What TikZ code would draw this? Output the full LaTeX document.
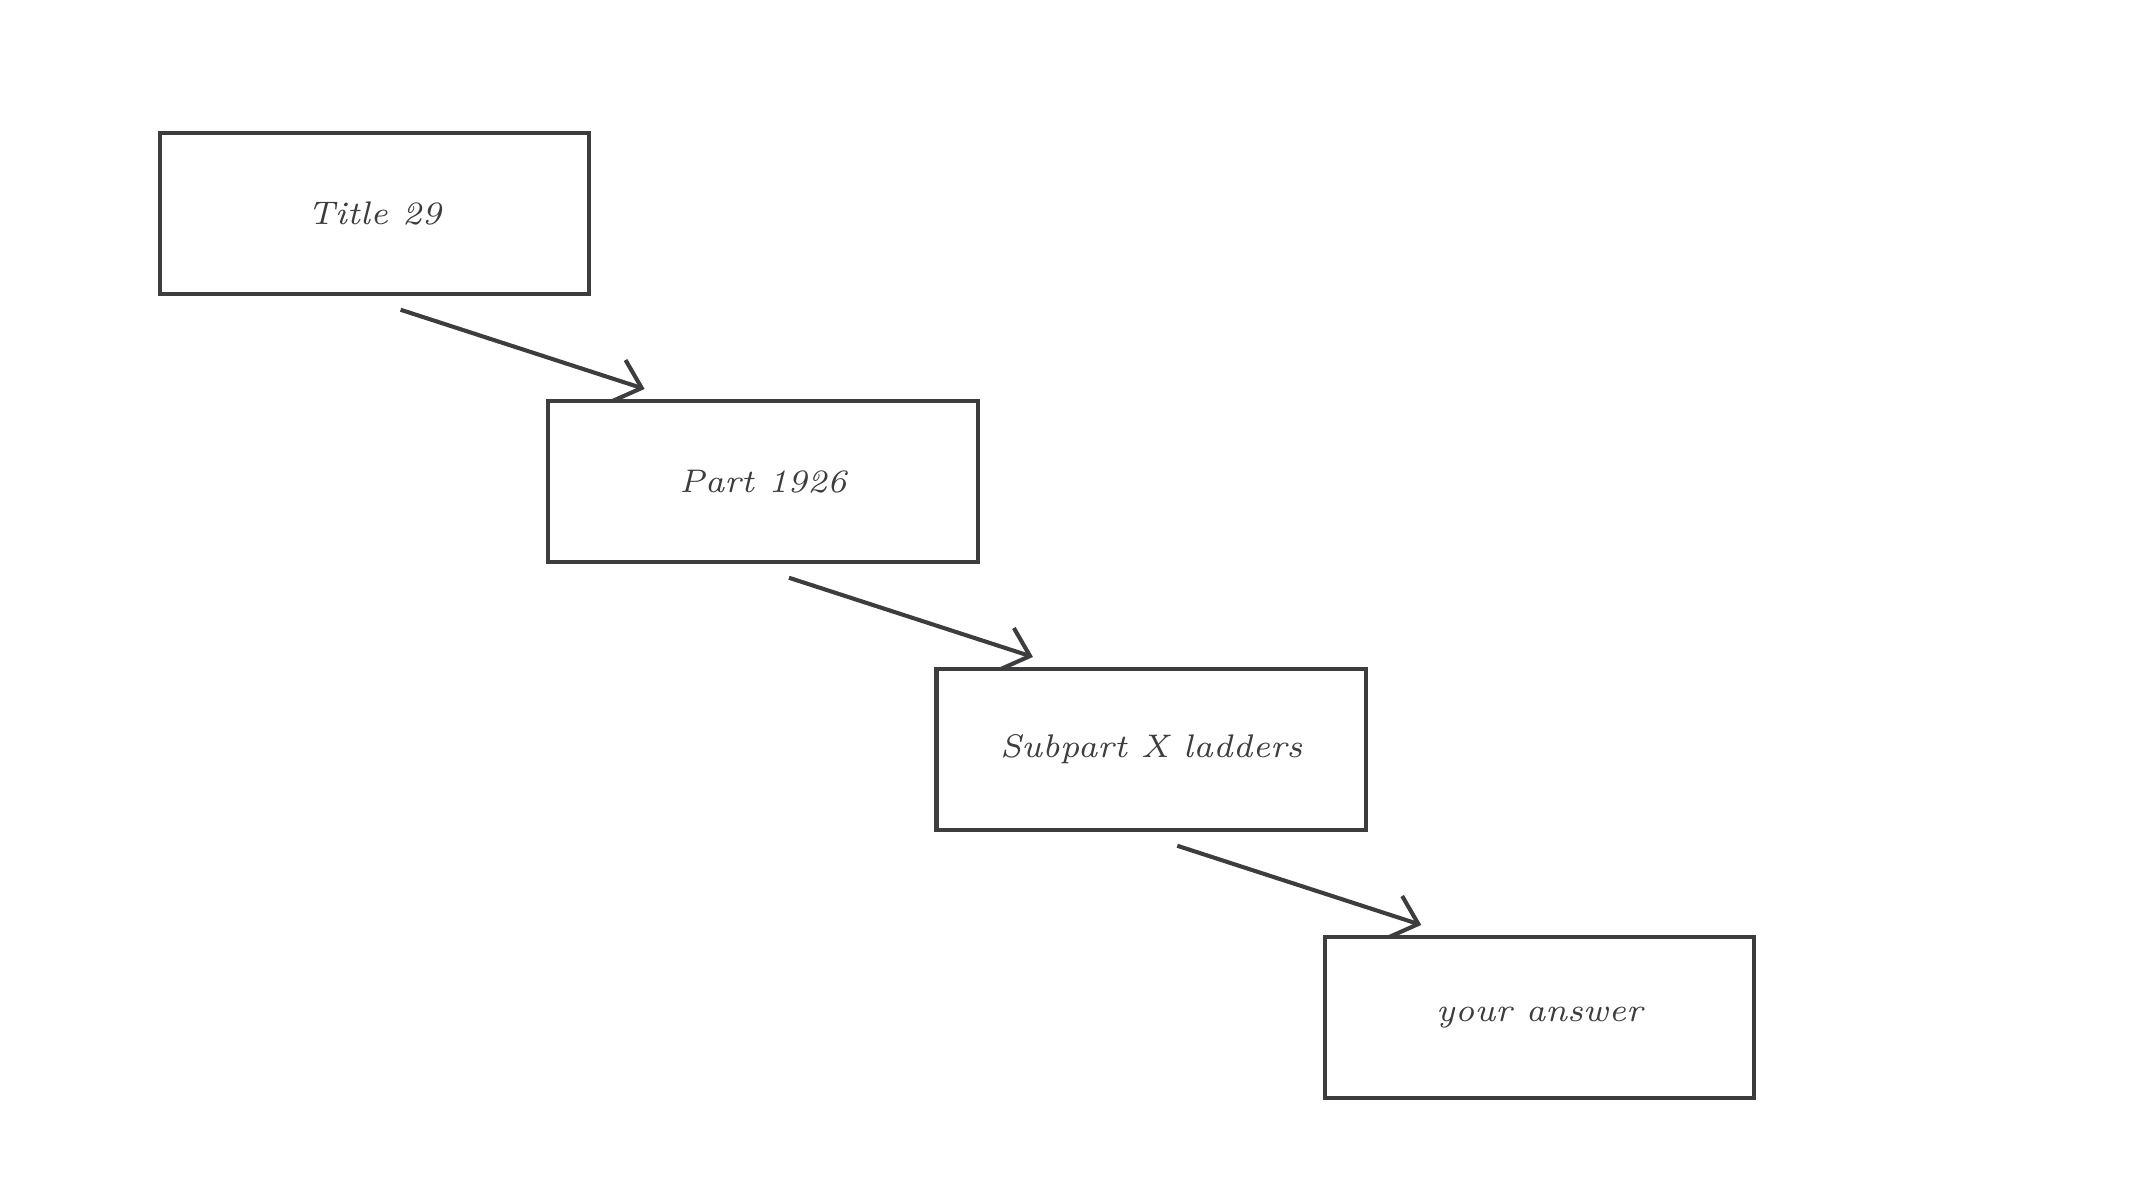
\documentclass[tikz,border=0pt]{standalone}
\usepackage{tikz}
\usetikzlibrary{arrows.meta}
\definecolor{ink}{HTML}{3D3D40}
\begin{document}
\begin{tikzpicture}[x=0.01cm,y=-0.01cm,
  stage/.style={draw=ink,line width=0.85pt,minimum width=3.14cm,minimum height=1.18cm,
    inner sep=0pt,text=ink,font=\fontsize{6.8}{8}\selectfont\itshape},
  link/.style={draw=ink,line width=0.85pt,-{Straight Barb[length=5pt,width=9pt,line width=0.85pt]}}]
\useasboundingbox (0,0) rectangle (1560,878);
% Boxes
\node[stage] (title) at (274,156) {Title 29};
\node[stage] (part) at (558,352) {Part 1926};
\node[stage] (sub) at (842,548) {Subpart X ladders};
\node[stage] (ans) at (1126,744) {your answer};

% Arrows
\draw[link] ([xshift=0.19cm,yshift=-0.1cm]title.south) -- ([xshift=0.72cm,yshift=0.07cm]part.north west);
\draw[link] ([xshift=0.19cm,yshift=-0.1cm]part.south) -- ([xshift=0.72cm,yshift=0.07cm]sub.north west);
\draw[link] ([xshift=0.19cm,yshift=-0.1cm]sub.south) -- ([xshift=0.72cm,yshift=0.07cm]ans.north west);
\end{tikzpicture}
\end{document}
